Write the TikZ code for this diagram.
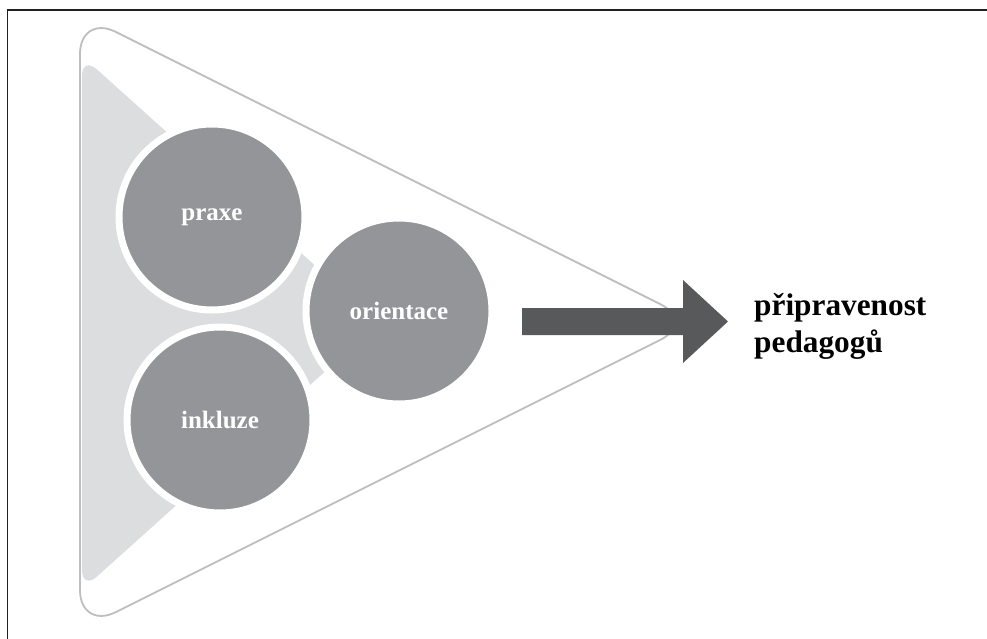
\documentclass[tikz,border=0pt]{standalone}
\usepackage{fontspec}
\setmainfont{Liberation Serif}
\definecolor{circgray}{HTML}{939598}
\definecolor{lightgr}{HTML}{DCDDDF}
\definecolor{outlgr}{HTML}{BCBEC0}
\definecolor{arrowgr}{HTML}{58595B}
\definecolor{framec}{HTML}{231F20}
\begin{document}
\begin{tikzpicture}[x=1pt,y=-1pt,
  circ/.style={circle, fill=circgray, draw=white, line width=7pt, minimum size=186pt,
    inner sep=0pt, text=white, font=\fontsize{25}{30}\selectfont\bfseries},
  outl/.style={draw=outlgr, line width=1.8pt, rounded corners=40pt},
  backtri/.style={fill=lightgr, rounded corners=20pt},
  bigarrow/.style={fill=arrowgr},
  result/.style={anchor=base west, inner sep=0pt, text=black, font=\fontsize{31.3}{37}\selectfont\bfseries},
  frame/.style={draw=framec, line width=1.2pt}]
\useasboundingbox (0,0) rectangle (987,639);
% frame (top and left edges visible)
\draw[frame] (7.5,639) -- (7.5,10) -- (987,10);
% outer rounded triangle outline
\draw[outl] (80,322) -- (80,14) -- (696,322) -- (80,630) -- cycle;
% light gray inner triangle
\fill[backtri] (82,323) -- (82,56) -- (379,323) -- (82,590) -- cycle;
% circles
\node[circ] (praxe) at (212,217) {praxe};
\node[circ] (orientace) at (399,311) {orientace};
\node[circ] (inkluze) at (220,420) {inkluze};
% block arrow
\coordinate (arrstart) at (522,321.5);
\fill[bigarrow] (522,308) -- (683,308) -- (683,280) -- (728,321.5) -- (683,363) -- (683,335) -- (522,335) -- cycle;
% result text
\node[result] (ready1) at (754,315) {připravenost};
\node[result] (ready2) at (754,352) {pedagogů};
\end{tikzpicture}
\end{document}
